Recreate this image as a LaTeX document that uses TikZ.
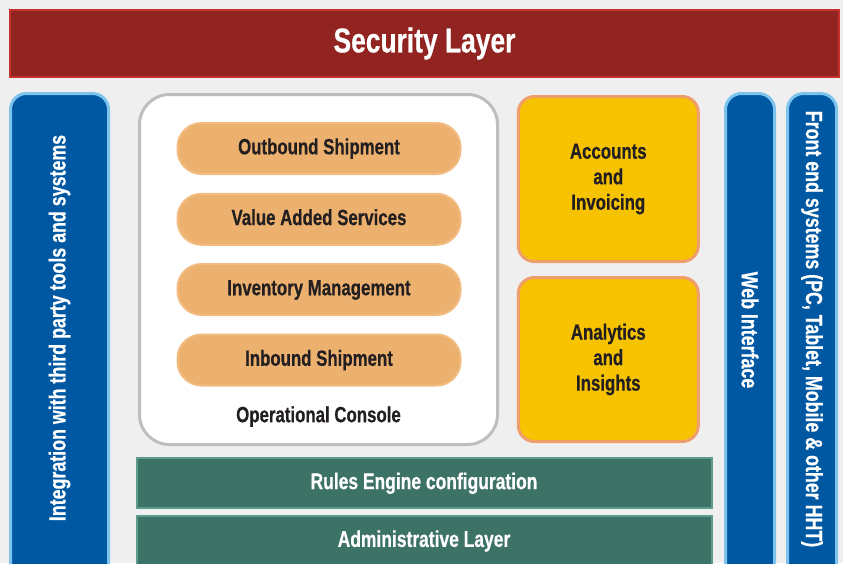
\documentclass[tikz,border=0pt]{standalone}
\usepackage{fontspec}
\setmainfont[FakeStretch=0.765,BoldFeatures={FakeBold=0.5}]{Liberation Sans}
\definecolor{bg}{HTML}{EFEFEF}
\definecolor{secfill}{HTML}{912420}
\definecolor{secborder}{HTML}{C4302B}
\definecolor{bluefill}{HTML}{0058A2}
\definecolor{blueborder}{HTML}{7CC4EE}
\definecolor{consoleborder}{HTML}{BEBEBE}
\definecolor{pillfill}{HTML}{ECB06F}
\definecolor{pillborder}{HTML}{F2BC80}
\definecolor{yelfill}{HTML}{F7C300}
\definecolor{yelborder}{HTML}{EF9E6B}
\definecolor{grnfill}{HTML}{3D7266}
\definecolor{grnborder}{HTML}{5E9C8A}
\definecolor{darktext}{HTML}{231F20}
\begin{document}
\begin{tikzpicture}[x=1pt,y=-1pt,
  every node/.style={inner sep=0pt,outer sep=0pt,font=\bfseries},
  secbox/.style={draw=secborder,fill=secfill,line width=2pt,text=white,font=\bfseries\fontsize{34.5}{38}\selectfont},
  bluebar/.style={draw=blueborder,fill=bluefill,line width=3pt,rounded corners=16pt},
  bluetext/.style={text=white,font=\bfseries\fontsize{23.3}{26}\selectfont},
  console/.style={draw=consoleborder,fill=white,line width=3pt,rounded corners=30pt},
  pill/.style={draw=pillborder,fill=pillfill,line width=2pt,rounded corners=24pt,minimum width=283pt,minimum height=51pt,text=darktext,text height=16pt,text depth=4.5pt,font=\bfseries\fontsize{22}{24}\selectfont},
  ybox/.style={draw=yelborder,fill=yelfill,line width=3pt,rounded corners=16pt,minimum width=180pt,text=darktext,align=center,font=\bfseries\fontsize{22}{25.5}\selectfont},
  gbar/.style={draw=grnborder,fill=grnfill,line width=2pt,minimum width=575pt,text=white,font=\bfseries\fontsize{22.8}{24}\selectfont},
  plain/.style={text=darktext,font=\bfseries\fontsize{22}{24}\selectfont}]
\useasboundingbox (0,0) rectangle (843,563);
\clip (0,0) rectangle (843,563);
\fill[bg] (0,0) rectangle (843,563);
% security layer
\node[secbox,minimum width=829pt,minimum height=67pt] (sec) at (424.5,43.5) {Security Layer};
% left integration bar
\node[bluebar,minimum width=98pt,minimum height=520pt] (left) at (59.5,353.5) {};
\node[bluetext,rotate=90] (lefttext) at (59.5,328) {Integration with third party tools and systems};
% web interface bar
\node[bluebar,minimum width=49pt,minimum height=520pt] (web) at (750,353.5) {};
\node[bluetext,rotate=-90] (webtext) at (750,330) {Web Interface};
% front end bar
\node[bluebar,minimum width=49pt,minimum height=520pt] (front) at (812,353.5) {};
\node[bluetext,rotate=-90] (fronttext) at (812,329) {Front end systems (PC, Tablet, Mobile \& other HHT)};
% operational console
\node[console,minimum width=358pt,minimum height=350pt] (console) at (318.5,269.5) {};
\node[pill] (out) at (319,148.5) {Outbound Shipment};
\node[pill] (vas) at (319,219.3) {Value Added Services};
\node[pill] (inv) at (319,289.5) {Inventory Management};
\node[pill] (inb) at (319,360) {Inbound Shipment};
\node[plain] (optext) at (318.5,416.5) {Operational Console};
% yellow boxes
\node[ybox,minimum height=165pt] (acc) at (608.3,179) {Accounts\\and\\Invoicing};
\node[ybox,minimum height=164pt] (ana) at (608.3,359.5) {Analytics\\and\\Insights};
% green bars
\node[gbar,minimum height=50pt] (rules) at (424,483.3) {Rules Engine configuration};
\node[gbar,minimum height=50pt] (admin) at (424,541) {Administrative Layer};
\end{tikzpicture}
\end{document}
